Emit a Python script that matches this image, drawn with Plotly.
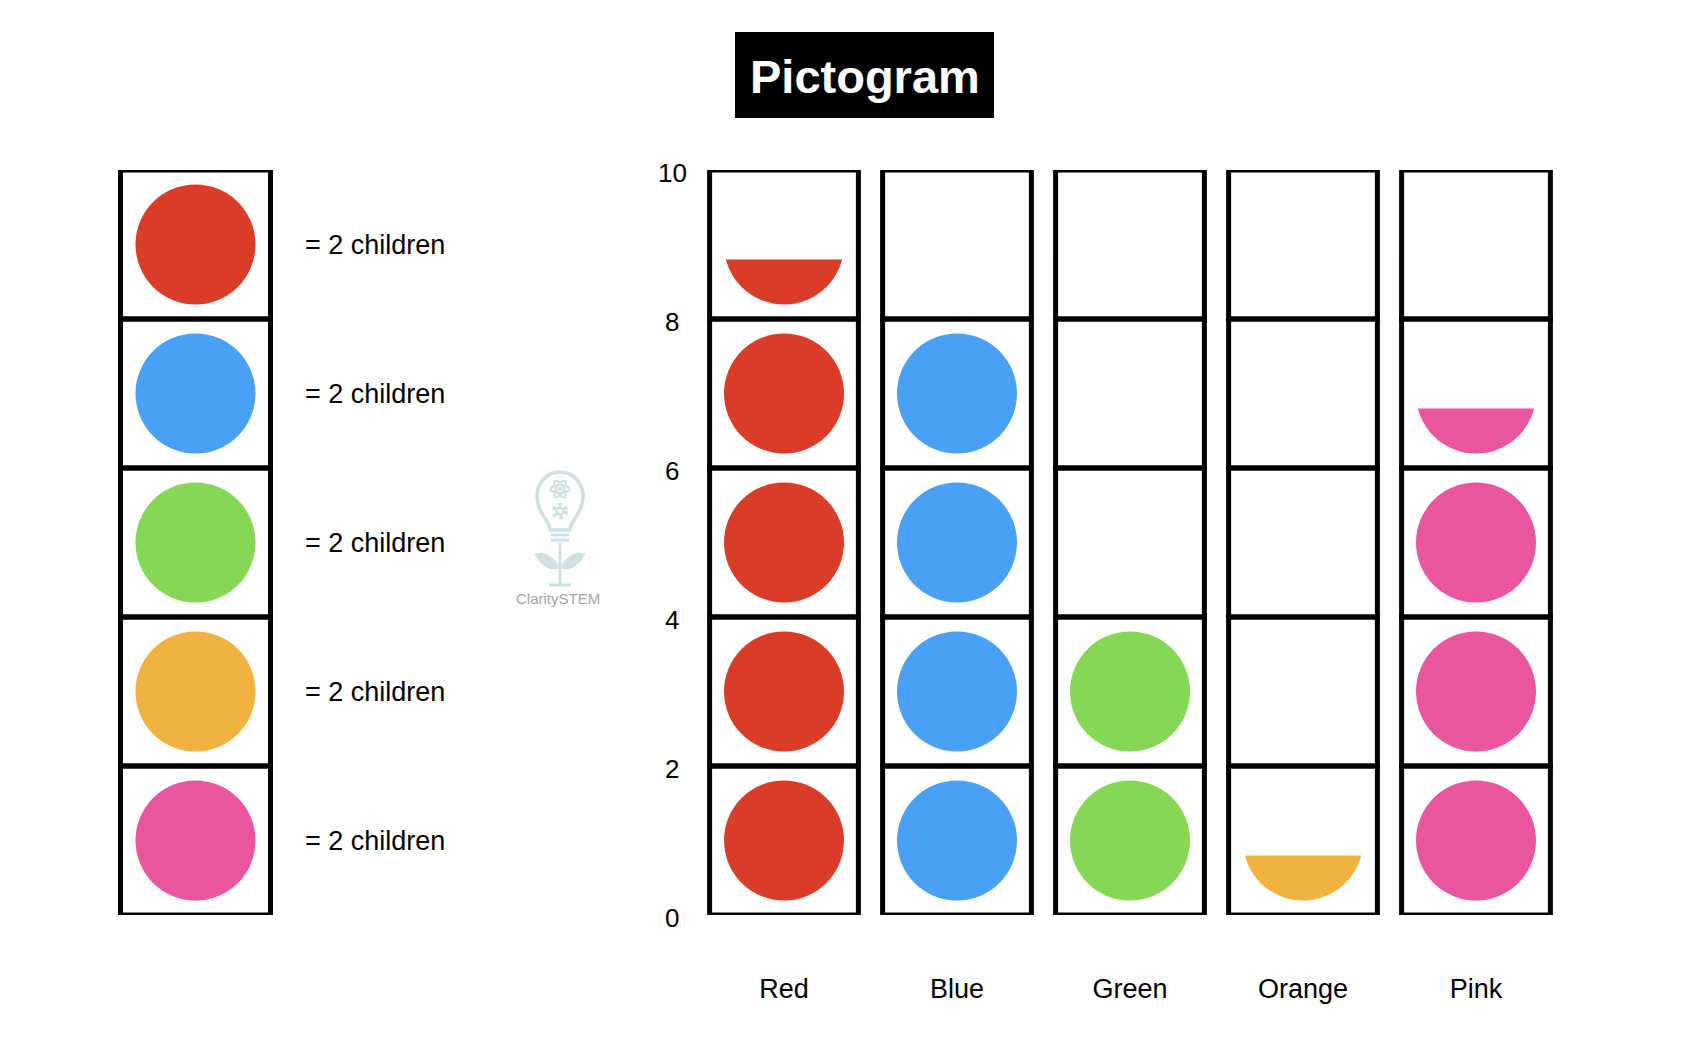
import math
import plotly.graph_objects as go

# ---------------- data ----------------
categories = ["Red", "Blue", "Green", "Orange", "Pink"]
counts = [9, 8, 4, 1, 7]
colors = ["#DB3C27", "#4AA0F5", "#85D755", "#F2B23F", "#EB559E"]
per_symbol = 2
legend_text = ["= 2 children", "= 2 children", "= 2 children", "= 2 children", "= 2 children"]
y_ticks = [0, 2, 4, 6, 8, 10]
y_max = 10
title_text = "Pictogram"
watermark_text = "ClaritySTEM"

# ---------------- layout constants ----------------
W, H = 1682, 1056
OFF = 8                   # page body margin offset (screen px)
M_T, M_B = 170 - OFF, 141 + OFF
PLOT_H = H - M_T - M_B
FONT = "Liberation Sans, Arial, Helvetica, sans-serif"
CELL_HALF = 0.43          # half width of a pictogram column (x units)
BORDER = 5
SYMBOL_PX = 120
HALF_CUT_PX = 15          # half symbol: visible part starts this far below centre
px_per_unit = PLOT_H / y_max


def px(x):
    """screen x pixel -> paper"""
    return (x - OFF) / W


def py(y):
    """screen y pixel -> paper"""
    return (H - M_B - (y - OFF)) / PLOT_H


fig = go.Figure()
shapes = []
annotations = []

# ---------------- main pictogram ----------------
masks = []
for i, (cat, n, col) in enumerate(zip(categories, counts, colors)):
    full = n // per_symbol
    ys = [per_symbol * k + per_symbol / 2 for k in range(full)]
    rem = n % per_symbol
    if rem:
        cy = per_symbol * full + per_symbol / 2
        ys.append(cy)
        masks.append(dict(type="rect", xref="x", yref="y",
                          x0=i - CELL_HALF, x1=i + CELL_HALF,
                          y0=cy - HALF_CUT_PX / px_per_unit, y1=cy + per_symbol / 2,
                          fillcolor="white", line=dict(width=0), layer="above"))
    fig.add_trace(go.Scatter(
        x=[cat] * len(ys), y=ys, mode="markers", xaxis="x", yaxis="y",
        marker=dict(size=SYMBOL_PX, color=col, line=dict(width=0)),
        hoverinfo="skip", showlegend=False))

shapes.extend(masks)
for i in range(len(categories)):
    for k in range(0, y_max, per_symbol):
        shapes.append(dict(type="rect", xref="x", yref="y",
                           x0=i - CELL_HALF, x1=i + CELL_HALF, y0=k, y1=k + per_symbol,
                           line=dict(color="black", width=BORDER), layer="above"))

# ---------------- key (left column) ----------------
key_x = 195.5 - OFF
key_half = 75
key_y = [y_max - per_symbol * k - per_symbol / 2 for k in range(len(colors))]
fig.add_trace(go.Scatter(
    x=[key_x] * len(colors), y=key_y, mode="markers", xaxis="x2", yaxis="y",
    marker=dict(size=SYMBOL_PX, color=colors, line=dict(width=0)),
    hoverinfo="skip", showlegend=False))
for yc, txt in zip(key_y, legend_text):
    shapes.append(dict(type="rect", xref="x2", yref="y",
                       x0=key_x - key_half, x1=key_x + key_half,
                       y0=yc - per_symbol / 2, y1=yc + per_symbol / 2,
                       line=dict(color="black", width=BORDER), layer="above"))
    annotations.append(dict(xref="x2", yref="y", x=303 - OFF, y=yc, text=txt,
                            showarrow=False, xanchor="left", yanchor="middle",
                            font=dict(family=FONT, size=27, color="black")))

# ---------------- y tick labels (centred) ----------------
for t in y_ticks:
    annotations.append(dict(xref="paper", yref="y", x=px(672), y=t, text=str(t),
                            showarrow=False, xanchor="center", yanchor="middle",
                            yshift=-3, font=dict(family=FONT, size=26, color="black")))

# ---------------- title ----------------
shapes.append(dict(type="rect", xref="paper", yref="paper",
                   x0=px(735), x1=px(994), y0=py(32), y1=py(118),
                   fillcolor="black", line=dict(width=0), layer="above"))
annotations.append(dict(xref="paper", yref="paper", x=px(864.5), y=py(76),
                        text="<b>%s</b>" % title_text, showarrow=False,
                        xanchor="center", yanchor="middle",
                        font=dict(family=FONT, size=47, color="white")))

# ---------------- watermark ----------------
wm = "#cfe0e3"


def P(x, y):
    return "%.5f,%.5f" % (px(x), py(y))


bulb = ("M " + P(550, 530) + " C " + P(550, 520) + " " + P(537, 514) + " " + P(537, 496) +
        " C " + P(537, 482) + " " + P(548, 472) + " " + P(560, 472) +
        " C " + P(572, 472) + " " + P(583, 482) + " " + P(583, 496) +
        " C " + P(583, 514) + " " + P(570, 520) + " " + P(570, 530) + " Z")
shapes.append(dict(type="path", xref="paper", yref="paper", path=bulb,
                   line=dict(color=wm, width=3.5), layer="above"))
for yy in (535, 540):
    shapes.append(dict(type="line", xref="paper", yref="paper",
                       x0=px(551), x1=px(569), y0=py(yy), y1=py(yy),
                       line=dict(color=wm, width=3), layer="above"))
# atom
for ang in (0, 60, -60):
    pts = []
    for s in range(0, 361, 15):
        a = math.radians(s)
        ex, ey = 9.5 * math.cos(a), 3.8 * math.sin(a)
        r = math.radians(ang)
        pts.append(P(560 + ex * math.cos(r) - ey * math.sin(r),
                     489 + ex * math.sin(r) + ey * math.cos(r)))
    shapes.append(dict(type="path", xref="paper", yref="paper",
                       path="M " + " L ".join(pts) + " Z",
                       line=dict(color=wm, width=1.8), layer="above"))
shapes.append(dict(type="circle", xref="paper", yref="paper",
                   x0=px(558), x1=px(562), y0=py(487), y1=py(491),
                   fillcolor=wm, line=dict(width=0), layer="above"))
# gear
shapes.append(dict(type="circle", xref="paper", yref="paper",
                   x0=px(553.5), x1=px(566.5), y0=py(504.5), y1=py(517.5),
                   fillcolor="white", line=dict(color=wm, width=3.5, dash="dot"), layer="above"))
shapes.append(dict(type="circle", xref="paper", yref="paper",
                   x0=px(556.5), x1=px(563.5), y0=py(507.5), y1=py(514.5),
                   fillcolor="white", line=dict(color=wm, width=2.5), layer="above"))
# stem and leaves
shapes.append(dict(type="line", xref="paper", yref="paper",
                   x0=px(560), x1=px(560), y0=py(543), y1=py(584),
                   line=dict(color=wm, width=3), layer="above"))
for sgn in (-1, 1):
    leaf = ("M " + P(560, 568) + " Q " + P(560 + sgn * 12, 549) + " " + P(560 + sgn * 25, 554) +
            " Q " + P(560 + sgn * 15, 573) + " " + P(560, 568) + " Z")
    shapes.append(dict(type="path", xref="paper", yref="paper", path=leaf,
                       fillcolor=wm, line=dict(color=wm, width=1), layer="above"))
shapes.append(dict(type="line", xref="paper", yref="paper",
                   x0=px(549), x1=px(571), y0=py(585), y1=py(585),
                   line=dict(color=wm, width=3), layer="above"))
annotations.append(dict(xref="paper", yref="paper", x=px(558), y=py(598),
                        text=watermark_text, showarrow=False, xanchor="center",
                        yanchor="middle", font=dict(family=FONT, size=15, color="#a6a6a6")))

# ---------------- layout ----------------
fig.update_layout(
    width=W, height=H,
    margin=dict(l=0, r=0, t=M_T, b=M_B, pad=0),
    paper_bgcolor="white", plot_bgcolor="white",
    showlegend=False,
    shapes=shapes, annotations=annotations,
    xaxis=dict(domain=[px(697.5), px(1562.5)], range=[-0.5, len(categories) - 0.5],
               type="category", categoryorder="array", categoryarray=categories,
               tickvals=categories, ticktext=categories,
               showgrid=False, zeroline=False, showline=False, ticks="",
               ticklabelstandoff=55,
               tickfont=dict(family=FONT, size=27, color="black"), fixedrange=True),
    xaxis2=dict(domain=[0, 0.3], range=[0, 0.3 * W], anchor="y",
                showgrid=False, zeroline=False, showline=False, showticklabels=False,
                fixedrange=True),
    yaxis=dict(range=[0, y_max], tickvals=y_ticks, showticklabels=False,
               showgrid=False, zeroline=False, showline=False, fixedrange=True),
)

fig.write_html("out.html")
